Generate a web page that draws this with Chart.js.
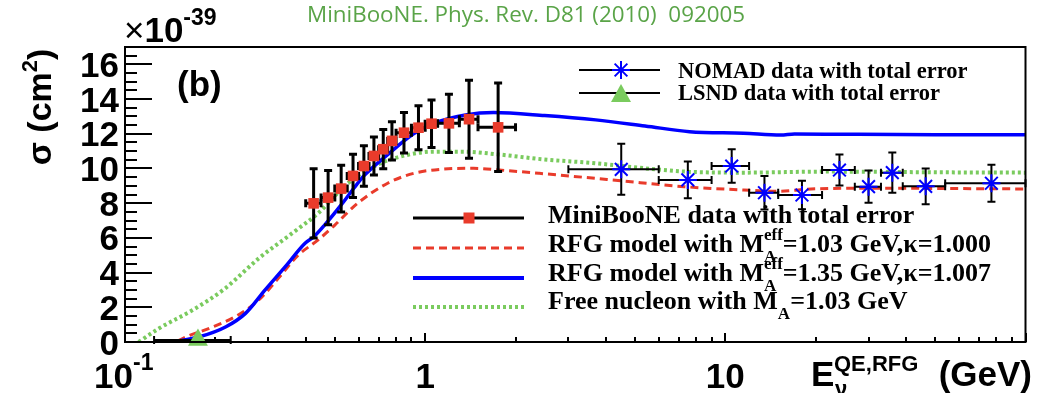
<!DOCTYPE html>
<html>
<head>
<meta charset="utf-8">
<script src="https://cdn.jsdelivr.net/npm/chart.js@4.4.1/dist/chart.umd.min.js"></script>
<style>
  html, body { margin: 0; padding: 0; background: #fff; }
  #wrap { width: 1037px; height: 393px; }
</style>
</head>
<body>
<div id="wrap"><canvas id="xs-chart" width="1037" height="393"></canvas></div>
<script>
// cross sections in 1e-39 cm^2, energies in GeV

// MiniBooNE data with total error
var mbLow  = [0.40, 0.45, 0.50, 0.55, 0.60, 0.65, 0.70, 0.75, 0.80, 0.90, 1.00, 1.10, 1.30, 1.50];
var mbHigh = [0.45, 0.50, 0.55, 0.60, 0.65, 0.70, 0.75, 0.80, 0.90, 1.00, 1.10, 1.30, 1.50, 2.00];
var mbE    = [0.425, 0.475, 0.525, 0.575, 0.625, 0.675, 0.725, 0.775, 0.85, 0.95, 1.05, 1.2, 1.4, 1.75];
var mbXs   = [7.99, 8.32, 8.84, 9.57, 10.14, 10.72, 11.11, 11.59, 12.06, 12.35, 12.58, 12.60, 12.84, 12.37];
var mbErr  = [2.00, 1.56, 1.35, 1.25, 1.17, 1.10, 1.13, 1.10, 1.17, 1.27, 1.37, 1.68, 2.25, 2.55];

// NOMAD data with total error
var nmLow  = [3, 6, 9, 12, 15, 21, 27, 33, 39, 54];
var nmHigh = [6, 9, 12, 15, 21, 27, 33, 39, 54, 100];
var nmE    = [4.5, 7.5, 10.5, 13.5, 18, 24, 30, 36, 46.5, 77];
var nmXs   = [9.95, 9.34, 10.14, 8.60, 8.47, 9.91, 8.95, 9.76, 8.97, 9.15];
var nmErr  = [1.47, 1.06, 0.97, 0.96, 0.82, 0.89, 0.93, 1.16, 1.03, 1.07];

// LSND data with total error
var lsLow  = [0.125];
var lsHigh = [0.225];
var lsE    = [0.175];
var lsXs   = [0.12];
var lsErr  = [0.05];

// RFG model, MA_eff = 1.03 GeV, kappa = 1.000
var rfg103E  = [0.15, 0.16, 0.191, 0.233, 0.279, 0.324, 0.378, 0.44, 0.5, 0.596, 0.75, 0.915, 1.12, 1.45, 1.77, 2.4, 4.2, 7.3, 11.5, 15, 19.3, 32, 100];
var rfg103Xs = [0.05, 0.3, 0.79, 1.46, 2.42, 3.67, 5.01, 5.88, 6.74, 8.0, 9.15, 9.72, 9.95, 10.01, 9.91, 9.72, 9.34, 8.95, 8.76, 8.68, 8.82, 8.86, 8.82];

// RFG model, MA_eff = 1.35 GeV, kappa = 1.007
var rfg135E  = [0.144, 0.177, 0.217, 0.252, 0.293, 0.342, 0.398, 0.426, 0.463, 0.525, 0.575, 0.627, 0.75, 0.915, 1.067, 1.377, 1.69, 2.5, 3.7, 5.4, 7.6, 11.5, 15.3, 17, 25, 50, 100];
var rfg135Xs = [0.0, 0.3, 0.88, 1.65, 3.0, 4.34, 5.69, 6.07, 6.75, 7.9, 8.8, 9.6, 10.8, 12.0, 12.6, 13.1, 13.22, 13.05, 12.8, 12.45, 12.12, 12.03, 11.93, 11.99, 11.97, 11.95, 11.95];

// Free nucleon, MA = 1.03 GeV
var freeE  = [0.111, 0.13, 0.168, 0.216, 0.279, 0.36, 0.44, 0.553, 0.71, 0.872, 1.067, 1.34, 1.73, 2.46, 3.69, 5.4, 7.3, 11.5, 21.7, 50, 100];
var freeXs = [0.0, 0.79, 1.84, 3.1, 4.82, 6.26, 7.42, 9.15, 10.3, 10.78, 10.97, 10.97, 10.82, 10.53, 10.3, 10.01, 9.82, 9.76, 9.82, 9.78, 9.76];

var RED = '#e93b2b', BLUE = '#0000ff', GREEN = '#7acb5e';
var SANS = '"Liberation Sans", Arial, sans-serif';
var SERIF = '"Liberation Serif", "Times New Roman", serif';

function pts(xs, ys) {
    return xs.map(function(x, i) { return {x: x, y: ys[i]}; });
}

// black error bars, drawn just before the markers of their dataset
var errorBars = {
    id: 'errorBars',
    beforeDatasetDraw: function(chart, args) {
        var ds = chart.data.datasets[args.index];
        if (!ds.errY) return;
        var sx = chart.scales.x, sy = chart.scales.y, ctx = chart.ctx, c = ds.capSize;
        ctx.save();
        ctx.strokeStyle = '#000';
        ctx.lineWidth = ds.errWidth;
        ds.data.forEach(function(p, i) {
            var px = sx.getPixelForValue(p.x), py = sy.getPixelForValue(p.y);
            var x0 = sx.getPixelForValue(ds.errLow[i]), x1 = sx.getPixelForValue(ds.errHigh[i]);
            var y0 = sy.getPixelForValue(p.y - ds.errY[i]), y1 = sy.getPixelForValue(p.y + ds.errY[i]);
            ctx.beginPath();
            ctx.moveTo(x0, py); ctx.lineTo(x1, py);
            ctx.moveTo(px, y0); ctx.lineTo(px, y1);
            ctx.moveTo(px - c, y0); ctx.lineTo(px + c, y0);
            ctx.moveTo(px - c, y1); ctx.lineTo(px + c, y1);
            ctx.moveTo(x0, py - c); ctx.lineTo(x0, py + c);
            ctx.moveTo(x1, py - c); ctx.lineTo(x1, py + c);
            ctx.stroke();
        });
        ctx.restore();
    }
};

function put(ctx, s, x, y, font, align) {
    ctx.font = font;
    ctx.textAlign = align || 'left';
    ctx.fillText(s, x, y);
    return ctx.measureText(s).width;
}

// ROOT style frame, inner ticks, labels and legends
var rootFrame = {
    id: 'rootFrame',
    afterDraw: function(chart) {
        var ctx = chart.ctx, a = chart.chartArea, sx = chart.scales.x, sy = chart.scales.y;
        ctx.save();
        ctx.strokeStyle = '#000';
        ctx.fillStyle = '#000';
        ctx.lineWidth = 2;
        ctx.strokeRect(a.left, a.top, a.right - a.left, a.bottom - a.top);

        // y ticks
        ctx.beginPath();
        for (var v = 0; v <= 17.001; v += 0.5) {
            var y = Math.round(sy.getPixelForValue(v));
            var len = (Math.abs(v % 2) < 1e-6) ? 27 : 12;
            ctx.moveTo(a.left, y); ctx.lineTo(a.left + len, y);
        }
        // x ticks
        [0.1, 1, 10].forEach(function(d) {
            for (var k = 1; k <= 10; k++) {
                var x = Math.round(sx.getPixelForValue(k * d));
                var len = (k === 1 || k === 10) ? 9 : 5;
                ctx.moveTo(x, a.bottom); ctx.lineTo(x, a.bottom - len);
            }
        });
        ctx.stroke();

        ctx.textBaseline = 'alphabetic';
        var big = 'bold 35px ' + SANS, small = 'bold 23px ' + SANS;
        for (var t = 0; t <= 16; t += 2) {
            put(ctx, String(t), 119, sy.getPixelForValue(t) + 12.5, big, 'right');
        }
        var x01 = sx.getPixelForValue(0.1) + 8;
        put(ctx, '10', x01, 388, big, 'right');
        put(ctx, '-1', x01, 370, small, 'left');
        put(ctx, '1', sx.getPixelForValue(1), 388, big, 'center');
        put(ctx, '10', sx.getPixelForValue(10), 388, big, 'center');

        // exponent of the y axis
        var w = put(ctx, '\u00d7', 124, 42, '35px ' + SANS, 'left');
        w += put(ctx, '10', 124 + w, 42, big, 'left');
        put(ctx, '-39', 124 + w, 25, small, 'left');

        // x axis title
        put(ctx, 'E', 811, 386, big, 'left');
        put(ctx, 'QE,RFG', 834, 371, 'bold 22px ' + SANS, 'left');
        put(ctx, '\u03bd', 835, 396, 'bold 22px ' + SANS, 'left');
        put(ctx, '(GeV)', 1032, 386, big, 'right');

        // y axis title
        ctx.save();
        ctx.translate(51, 107);
        ctx.rotate(-Math.PI / 2);
        var f1 = 'bold 34px ' + SANS, f2 = 'bold 22px ' + SANS;
        ctx.font = f1;
        var w1 = ctx.measureText('\u03c3 (cm').width, w3 = ctx.measureText(')').width;
        ctx.font = f2;
        var w2 = ctx.measureText('2').width;
        var x0 = -(w1 + w2 + w3) / 2;
        put(ctx, '\u03c3 (cm', x0, 0, f1);
        put(ctx, '2', x0 + w1, -14, f2);
        put(ctx, ')', x0 + w1 + w2, 0, f1);
        ctx.restore();

        put(ctx, '(b)', 177, 96, big, 'left');

        // top label
        ctx.fillStyle = '#5aa448';
        put(ctx, 'MiniBooNE. Phys. Rev. D81 (2010)  092005', 307, 22, '22.4px "Open Sans", "Noto Sans", sans-serif', 'left');
        ctx.fillStyle = '#000';

        // legend, upper right
        var lf = 'bold 22.5px ' + SERIF;
        ctx.lineWidth = 2;
        ctx.beginPath();
        ctx.moveTo(579, 70); ctx.lineTo(660, 70);
        ctx.moveTo(579, 93); ctx.lineTo(660, 93);
        ctx.stroke();
        ctx.strokeStyle = BLUE;
        ctx.beginPath();
        var r = 9, q = r * Math.SQRT1_2;
        ctx.moveTo(621 - r, 70); ctx.lineTo(621 + r, 70);
        ctx.moveTo(621, 70 - r); ctx.lineTo(621, 70 + r);
        ctx.moveTo(621 - q, 70 - q); ctx.lineTo(621 + q, 70 + q);
        ctx.moveTo(621 - q, 70 + q); ctx.lineTo(621 + q, 70 - q);
        ctx.stroke();
        ctx.fillStyle = GREEN;
        ctx.beginPath();
        ctx.moveTo(621, 84); ctx.lineTo(631, 102); ctx.lineTo(611, 102); ctx.closePath();
        ctx.fill();
        ctx.fillStyle = '#000';
        ctx.strokeStyle = '#000';
        put(ctx, 'NOMAD data with total error', 678, 78, lf);
        put(ctx, 'LSND data with total error', 678, 100, lf);

        // legend, lower middle
        var gf = 'bold 26px ' + SERIF, sf = 'bold 17px ' + SERIF;
        var lx0 = 413, lx1 = 524, tx = 548;
        ctx.lineWidth = 3;
        ctx.beginPath(); ctx.moveTo(lx0, 218); ctx.lineTo(lx1, 218); ctx.stroke();
        ctx.fillStyle = RED;
        ctx.fillRect(469 - 5.5, 218 - 5.5, 11, 11);
        ctx.strokeStyle = RED;
        ctx.setLineDash([8, 5]);
        ctx.beginPath(); ctx.moveTo(lx0, 248); ctx.lineTo(lx1, 248); ctx.stroke();
        ctx.setLineDash([]);
        ctx.strokeStyle = BLUE;
        ctx.lineWidth = 4;
        ctx.beginPath(); ctx.moveTo(lx0, 278); ctx.lineTo(lx1, 278); ctx.stroke();
        ctx.strokeStyle = GREEN;
        ctx.setLineDash([3, 3]);
        ctx.beginPath(); ctx.moveTo(lx0, 307); ctx.lineTo(lx1, 307); ctx.stroke();
        ctx.setLineDash([]);

        ctx.fillStyle = '#000';
        put(ctx, 'MiniBooNE data with total error', tx, 223, gf);
        [[252, '1.03', '1.000'], [281, '1.35', '1.007']].forEach(function(e) {
            var x = tx + put(ctx, 'RFG model with M', tx, e[0], gf);
            var we = put(ctx, 'eff', x, e[0] - 12, sf);
            put(ctx, 'A', x, e[0] + 10, sf);
            put(ctx, '=' + e[1] + ' GeV,\u03ba=' + e[2], x + we, e[0], gf);
        });
        var x = tx + put(ctx, 'Free nucleon with M', tx, 309, gf);
        var wa = put(ctx, 'A', x, 319, sf);
        put(ctx, '=1.03 GeV', x + wa, 309, gf);
        ctx.restore();
    }
};

var chart = new Chart(document.getElementById('xs-chart').getContext('2d'), {
    type: 'scatter',
    data: {
        datasets: [
            {
                label: 'MiniBooNE data with total error',
                data: pts(mbE, mbXs),
                errLow: mbLow, errHigh: mbHigh, errY: mbErr, errWidth: 3, capSize: 4,
                pointStyle: 'rect', pointRadius: 7.5, pointBorderWidth: 0,
                backgroundColor: RED, borderColor: RED, clip: false
            },
            {
                label: 'NOMAD data with total error',
                data: pts(nmE, nmXs),
                errLow: nmLow, errHigh: nmHigh, errY: nmErr, errWidth: 2, capSize: 4,
                pointStyle: 'star', pointRadius: 9, pointBorderWidth: 2,
                borderColor: BLUE, backgroundColor: BLUE, clip: false
            },
            {
                label: 'LSND data with total error',
                data: pts(lsE, lsXs),
                errLow: lsLow, errHigh: lsHigh, errY: lsErr, errWidth: 2, capSize: 4,
                pointStyle: 'triangle', pointRadius: 11.5, pointBorderWidth: 0,
                backgroundColor: GREEN, borderColor: GREEN, clip: false
            },
            {
                label: 'RFG model with MA_eff=1.35 GeV, kappa=1.007',
                type: 'line', data: pts(rfg135E, rfg135Xs),
                borderColor: BLUE, borderWidth: 3.5, pointRadius: 0,
                cubicInterpolationMode: 'monotone', fill: false
            },
            {
                label: 'RFG model with MA_eff=1.03 GeV, kappa=1.000',
                type: 'line', data: pts(rfg103E, rfg103Xs),
                borderColor: RED, borderWidth: 3, borderDash: [8, 5], pointRadius: 0,
                cubicInterpolationMode: 'monotone', fill: false
            },
            {
                label: 'Free nucleon with MA=1.03 GeV',
                type: 'line', data: pts(freeE, freeXs),
                borderColor: GREEN, borderWidth: 4, borderDash: [3, 3], pointRadius: 0,
                cubicInterpolationMode: 'monotone', fill: false
            }
        ]
    },
    options: {
        responsive: false,
        devicePixelRatio: 1,
        animation: false,
        layout: { padding: { top: 47, right: 4, left: 0, bottom: 0 } },
        plugins: { legend: { display: false }, tooltip: { enabled: false } },
        scales: {
            x: {
                type: 'logarithmic', min: 0.1, max: 100,
                ticks: { display: false }, grid: { display: false }, border: { display: false },
                afterFit: function(s) { s.height = 51; }
            },
            y: {
                type: 'linear', min: 0, max: 17,
                ticks: { display: false }, grid: { display: false }, border: { display: false },
                afterFit: function(s) { s.width = 125; }
            }
        }
    },
    plugins: [errorBars, rootFrame]
});
</script>
</body>
</html>
